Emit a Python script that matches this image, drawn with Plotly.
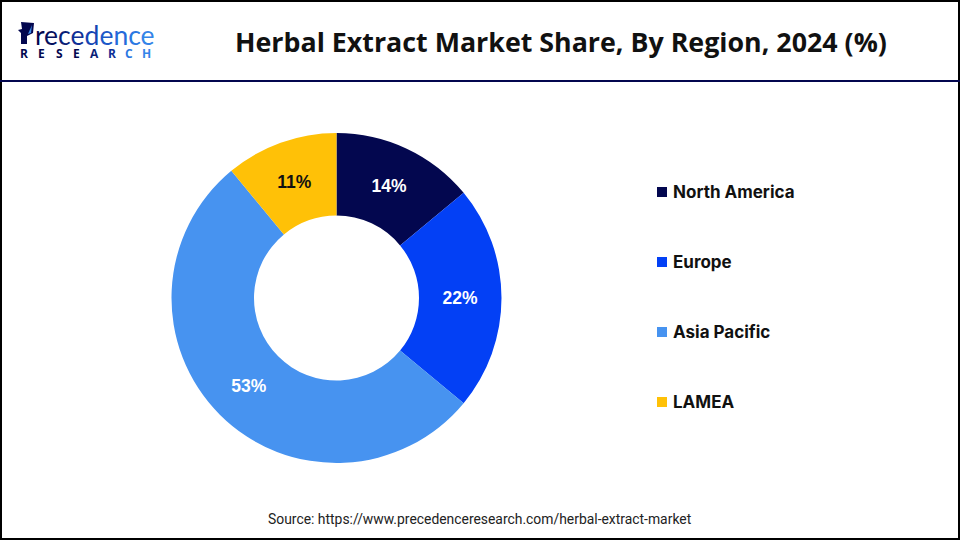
import plotly.graph_objects as go

regions = ["North America", "Europe", "Asia Pacific", "LAMEA"]
shares = [14, 22, 53, 11]
colors = ["#03074F", "#0340F5", "#4793F0", "#FFC107"]
title = "Herbal Extract Market Share, By Region, 2024 (%)"
source = "Source: https://www.precedenceresearch.com/herbal-extract-market"
logo_top = ["r", "e", "c", "e", "d", "e", "n", "c", "e"]
logo_top_colors = ["#03074F", "#06105E", "#0A1F78", "#0F2F96", "#1545B4", "#1C58C8", "#246ADA", "#2B78E2", "#3384E8"]
logo_bottom = ["R", "E", "S", "E", "A", "R", "C", "H"]
logo_bottom_colors = ["#03074F", "#03074F", "#03074F", "#03074F", "#0A1F78", "#0F2F96", "#2B78E2", "#3384E8"]

W, H = 960, 540
px = lambda v: v / W
py = lambda v: 1 - v / H

fig = go.Figure(go.Pie(
    labels=regions, values=shares, hole=0.5, sort=False, direction="clockwise", rotation=0,
    marker=dict(colors=colors, line=dict(width=0)),
    text=[f"{v}%" for v in shares], textinfo="text", textposition="inside",
    insidetextorientation="horizontal",
    textfont=dict(family="Liberation Sans", size=17.5, color=["#FFFFFF", "#FFFFFF", "#FFFFFF", "#111111"], weight="bold"),
    domain=dict(x=[px(171.5), px(501.5)], y=[py(463), py(133)]),
    showlegend=False,
))

shapes = [
    dict(type="rect", xref="paper", yref="paper", x0=px(1), x1=px(959), y0=py(539), y1=py(1),
         line=dict(color="#000000", width=2), fillcolor="rgba(0,0,0,0)"),
    dict(type="line", xref="paper", yref="paper", x0=0, x1=1, y0=py(81), y1=py(81),
         line=dict(color="#03074F", width=2)),
    # logo mark
    dict(type="path", xref="paper", yref="paper",
         path=f"M {px(18)} {py(30)} L {px(22)} {py(29)} L {px(21)} {py(22)} L {px(34)} {py(23)} L {px(33)} {py(33)} "
              f"L {px(27)} {py(36)} L {px(27)} {py(44)} L {px(21)} {py(44)} L {px(21)} {py(33)} Z",
         fillcolor="#03074F", line=dict(width=0)),
    dict(type="path", xref="paper", yref="paper",
         path=f"M {px(28)} {py(34)} L {px(32)} {py(25)} L {px(31)} {py(33)} Z",
         fillcolor="#3C8CE7", line=dict(width=0)),
]

annotations = [
    dict(text=f"<b>{title}</b>", x=px(561), y=py(42), xref="paper", yref="paper", xanchor="center", yanchor="middle",
         showarrow=False, font=dict(family="Open Sans", size=26.8, color="#111111")),
    dict(text=source, x=px(480), y=py(519), xref="paper", yref="paper", xanchor="center", yanchor="middle",
         showarrow=False, font=dict(family="Roboto", size=13.9, color="#222222")),
    dict(text="".join(f"<span style='color:{c}'>{t}</span>" for t, c in zip(logo_top, logo_top_colors)),
         x=px(33), y=py(35), xref="paper", yref="paper", xanchor="left", yanchor="middle",
         showarrow=False, font=dict(family="Lato", size=26.5)),
]

for i, (t, c) in enumerate(zip(logo_bottom, logo_bottom_colors)):
    annotations.append(dict(text=f"<b>{t}</b>", x=px(24 + 17.5 * i), y=py(54), xref="paper", yref="paper",
                            xanchor="center", yanchor="middle", showarrow=False,
                            font=dict(family="Open Sans", size=12, color=c)))

for i, (name, color) in enumerate(zip(regions, colors)):
    cy = 192 + 70 * i
    shapes.append(dict(type="rect", xref="paper", yref="paper", x0=px(657), x1=px(667), y0=py(cy + 5), y1=py(cy - 5),
                       fillcolor=color, line=dict(width=0)))
    annotations.append(dict(text=f"<b>{name}</b>", x=px(670.5), y=py(cy), xref="paper", yref="paper",
                            xanchor="left", yanchor="middle", showarrow=False,
                            font=dict(family="Inter", size=17, color="#111111")))

fig.update_layout(width=W, height=H, margin=dict(l=0, r=0, t=0, b=0), paper_bgcolor="#FFFFFF",
                  shapes=shapes, annotations=annotations, showlegend=False)
fig.write_html("out.html", config=dict(displayModeBar=False),
               post_script="document.body.style.margin='0';document.body.style.overflow='hidden';")
